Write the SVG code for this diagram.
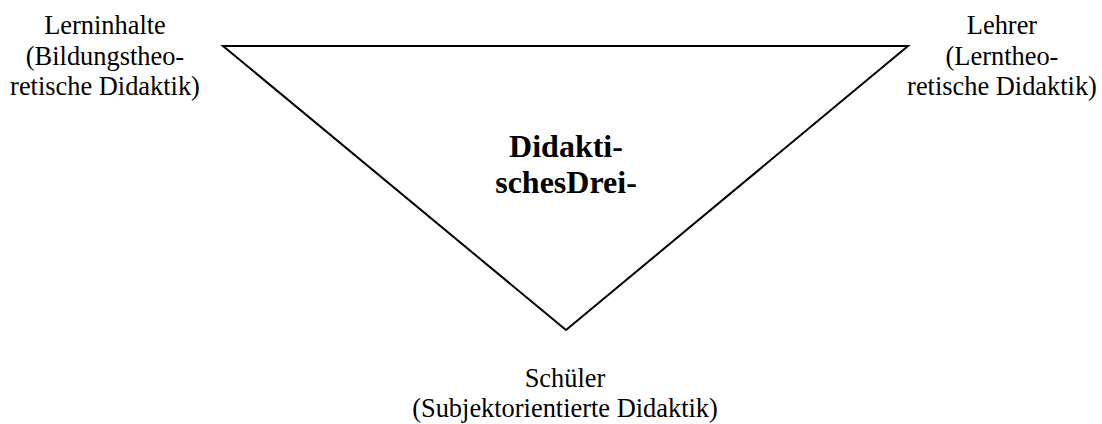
<svg xmlns="http://www.w3.org/2000/svg" width="1102" height="424" viewBox="0 0 1102 424">
<style>
.t{font-family:"Liberation Serif","Times New Roman",serif;font-size:26.4px;fill:#000;text-anchor:middle}
.b{font-family:"Liberation Serif","Times New Roman",serif;font-size:32px;font-weight:bold;fill:#000;text-anchor:middle}
</style>
<rect width="1102" height="424" fill="#fff"/>
<g id="connectors">
<polygon points="223,46 908,46 566,330" fill="none" stroke="#000" stroke-width="2" stroke-linejoin="miter"/>
</g>
<g id="lerninhalte">
<text class="t" x="105" y="34">Lerninhalte</text>
<text class="t" x="105" y="65">(Bildungstheo-</text>
<text class="t" x="105" y="95">retische Didaktik)</text>
</g>
<g id="lehrer">
<text class="t" x="1002" y="34">Lehrer</text>
<text class="t" x="1002" y="65">(Lerntheo-</text>
<text class="t" x="1002" y="95">retische Didaktik)</text>
</g>
<g id="center">
<text class="b" x="566" y="157">Didakti-</text>
<text class="b" x="566" y="193">schesDrei-</text>
</g>
<g id="schueler">
<text class="t" x="565" y="387">Schüler</text>
<text class="t" x="565" y="417">(Subjektorientierte Didaktik)</text>
</g>
</svg>
